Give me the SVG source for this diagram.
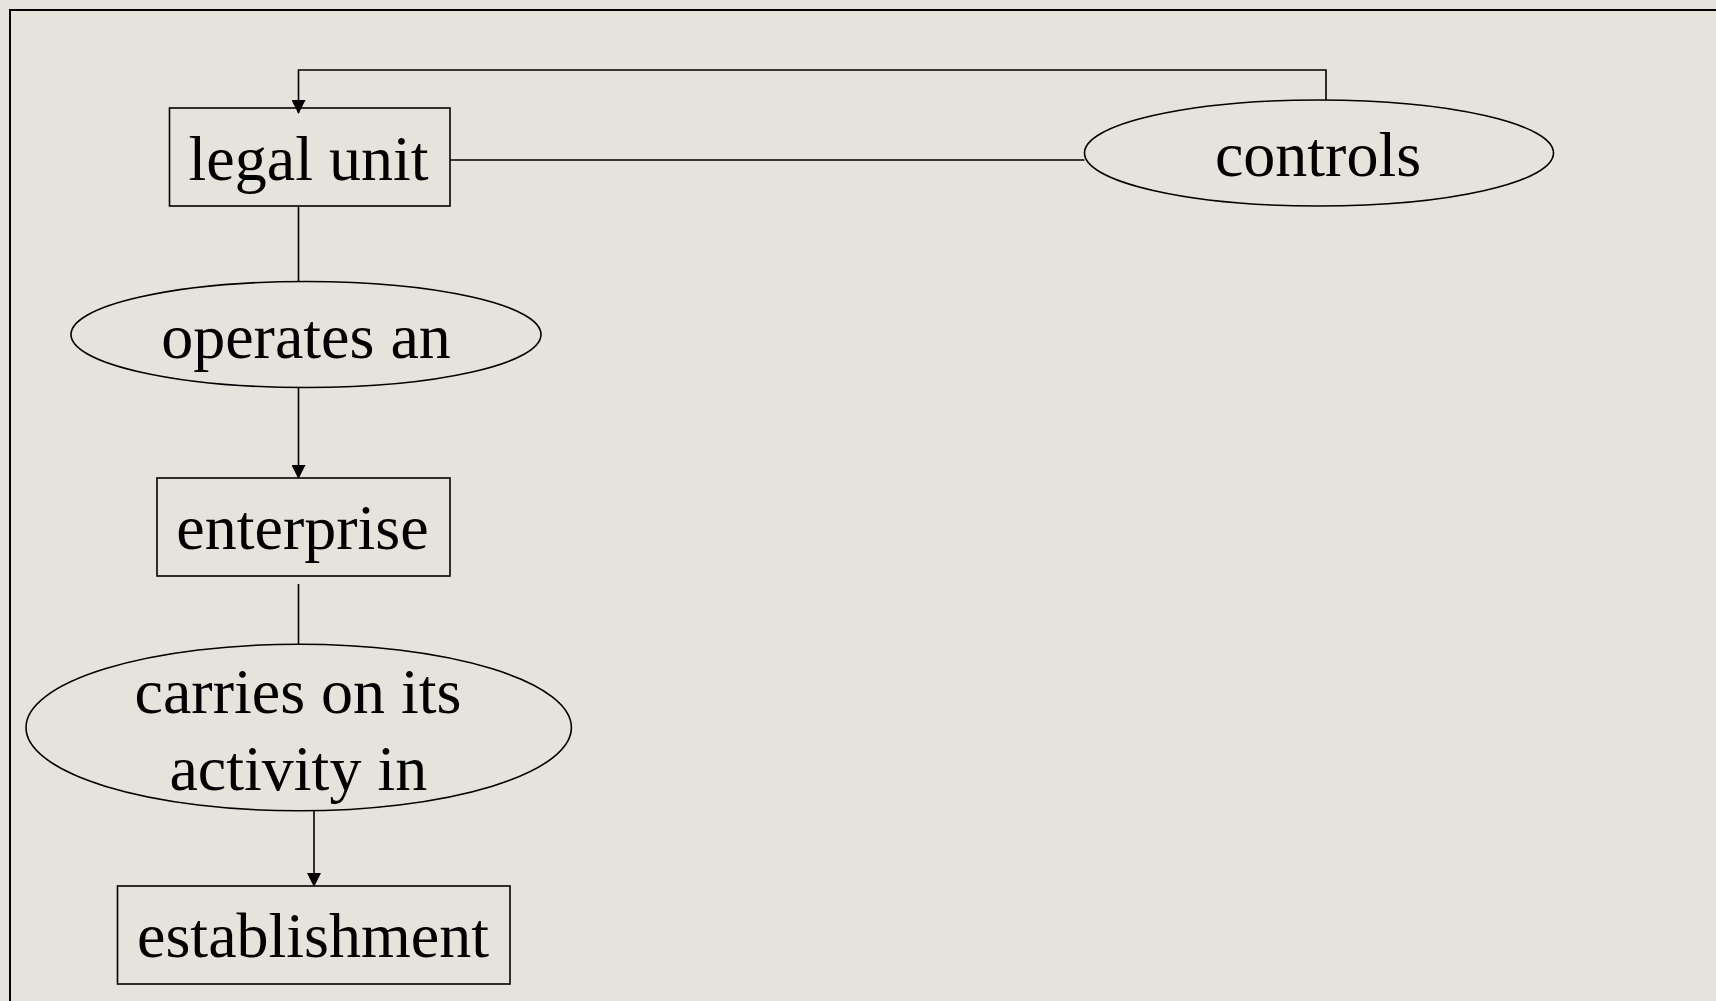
<svg xmlns="http://www.w3.org/2000/svg" width="1716" height="1001" viewBox="0 0 1716 1001">
<style>
.n{fill:none;stroke:#000;stroke-width:1.6}
.t{font-family:"Liberation Serif","Times New Roman",serif;font-size:64px;fill:#000;text-anchor:middle}
.c{fill:none;stroke:#000;stroke-width:1.6}
</style>
<defs>
<marker id="ah" viewBox="0 0 14 14" refX="13" refY="7" markerWidth="14" markerHeight="14" markerUnits="userSpaceOnUse" orient="auto">
<path d="M0,0 L14,7 L0,14 Z" fill="#000"/>
</marker>
</defs>
<rect x="0" y="0" width="1716" height="1001" fill="#E5E3DB"/>
<path d="M10,1001 L10,10 L1716,10" fill="none" stroke="#000" stroke-width="2"/>
<g id="connectors">
<path class="c" d="M1326,100 L1326,70 L298.5,70 L298.5,113" marker-end="url(#ah)"/>
<path class="c" d="M450,160 L1084.5,160"/>
<path class="c" d="M298.5,206 L298.5,282"/>
<path class="c" d="M298.5,387 L298.5,478" marker-end="url(#ah)"/>
<path class="c" d="M298.5,584 L298.5,644"/>
<path class="c" d="M314,811 L314,886" marker-end="url(#ah)"/>
</g>
<g id="legal-unit">
<rect class="n" x="169.5" y="108" width="280.5" height="98"/>
<text class="t" x="308.5" y="180">legal unit</text>
</g>
<g id="controls">
<ellipse class="n" cx="1319" cy="153" rx="234.5" ry="53"/>
<text class="t" x="1318" y="176">controls</text>
</g>
<g id="operates-an">
<ellipse class="n" cx="306" cy="334.5" rx="235" ry="53"/>
<text class="t" x="306" y="358">operates an</text>
</g>
<g id="enterprise">
<rect class="n" x="157" y="478" width="293" height="98"/>
<text class="t" x="302.5" y="549">enterprise</text>
</g>
<g id="carries-on">
<ellipse class="n" cx="298.7" cy="727.5" rx="272.7" ry="83.3"/>
<text class="t" x="298" y="712.5">carries on its</text>
<text class="t" x="298.3" y="789.5">activity in</text>
</g>
<g id="establishment">
<rect class="n" x="117.5" y="886" width="392.5" height="98"/>
<text class="t" x="313" y="957">establishment</text>
</g>
</svg>
